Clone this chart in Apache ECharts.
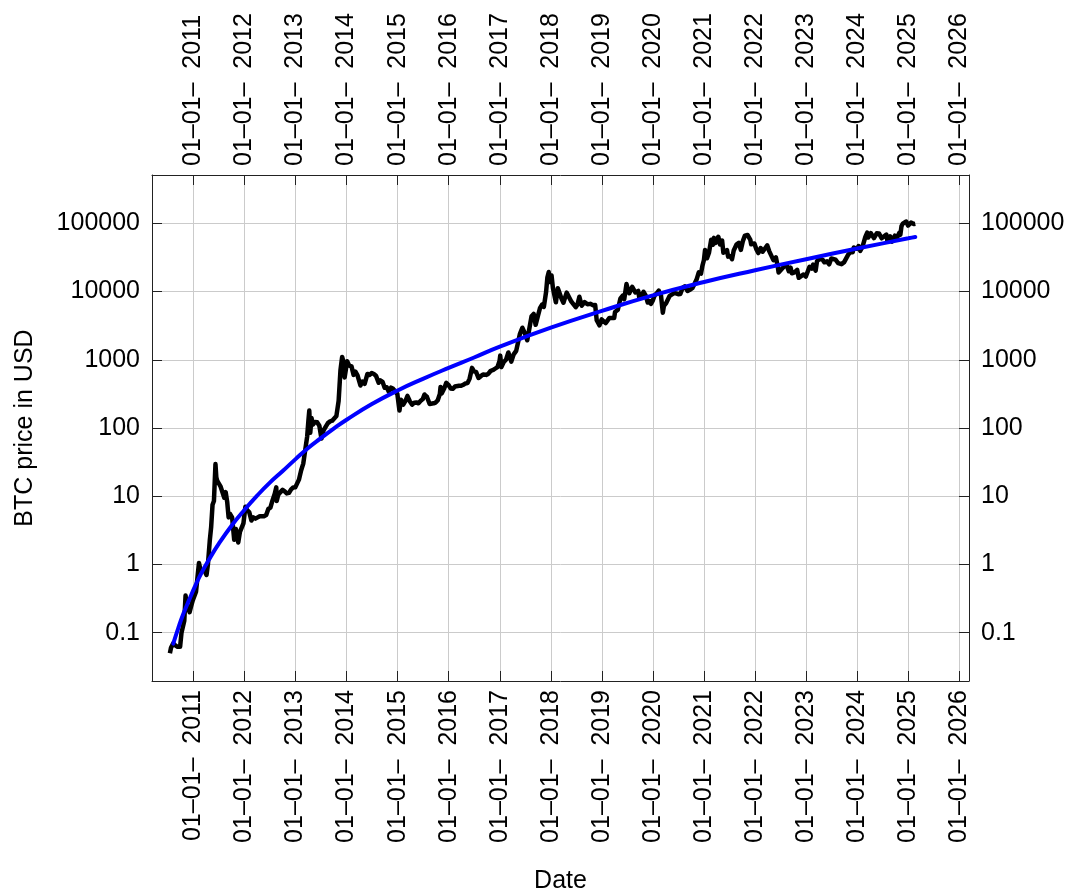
<!DOCTYPE html>
<html>
<head>
<meta charset="utf-8">
<title>BTC price</title>
<script src="https://cdn.jsdelivr.net/npm/echarts@6/dist/echarts.min.js"></script>
<style>
  html, body { margin: 0; padding: 0; background: #fff; }
  #main { width: 1070px; height: 896px; }
</style>
</head>
<body>
<div id="main"></div>
<script>
// BTC daily price, USD
var priceDates = [
  '2010-07-17','2010-07-25','2010-08-10','2010-08-25','2010-09-10','2010-09-28','2010-10-08','2010-10-20','2010-10-28','2010-11-06','2010-11-12','2010-11-25','2010-12-05','2010-12-15','2010-12-28',
  '2011-01-05','2011-01-20','2011-02-01','2011-02-10','2011-02-20','2011-03-05','2011-03-25','2011-04-05','2011-04-15','2011-04-28','2011-05-08','2011-05-18','2011-05-28','2011-06-08','2011-06-14','2011-06-20','2011-07-01','2011-07-15','2011-07-28','2011-08-10','2011-08-20','2011-08-31','2011-09-10','2011-09-20','2011-10-05','2011-10-20','2011-11-01','2011-11-18','2011-11-30','2011-12-10','2011-12-25',
  '2012-01-08','2012-01-20','2012-02-05','2012-02-20','2012-03-05','2012-03-20','2012-04-05','2012-04-20','2012-05-05','2012-05-20','2012-06-05','2012-06-20','2012-07-05','2012-07-20','2012-08-05','2012-08-16','2012-08-19','2012-08-30','2012-09-15','2012-09-30','2012-10-15','2012-10-30','2012-11-15','2012-11-30','2012-12-15','2012-12-30',
  '2013-01-10','2013-01-25','2013-02-10','2013-02-25','2013-03-10','2013-03-25','2013-04-03','2013-04-09','2013-04-16','2013-04-25','2013-05-05','2013-05-20','2013-06-05','2013-06-20','2013-07-05','2013-07-20','2013-08-05','2013-08-20','2013-09-05','2013-09-20','2013-10-03','2013-10-20','2013-11-05','2013-11-18','2013-11-30','2013-12-06','2013-12-18','2013-12-28',
  '2014-01-05','2014-01-20','2014-02-05','2014-02-20','2014-03-05','2014-03-20','2014-04-10','2014-04-25','2014-05-10','2014-05-30','2014-06-15','2014-06-30','2014-07-15','2014-07-30','2014-08-18','2014-08-30','2014-09-15','2014-09-30','2014-10-15','2014-10-30','2014-11-15','2014-11-30','2014-12-15','2014-12-30',
  '2015-01-14','2015-01-25','2015-02-10','2015-02-28','2015-03-12','2015-03-30','2015-04-15','2015-04-30','2015-05-15','2015-05-30','2015-06-15','2015-06-30','2015-07-12','2015-07-30','2015-08-18','2015-08-30','2015-09-15','2015-09-30','2015-10-15','2015-10-30','2015-11-04','2015-11-12','2015-11-30','2015-12-15','2015-12-30',
  '2016-01-15','2016-01-30','2016-02-15','2016-02-28','2016-03-15','2016-03-30','2016-04-15','2016-04-30','2016-05-15','2016-05-30','2016-06-16','2016-06-30','2016-07-15','2016-08-02','2016-08-20','2016-09-05','2016-09-25','2016-10-10','2016-10-28','2016-11-15','2016-11-30','2016-12-15','2016-12-30',
  '2017-01-04','2017-01-12','2017-01-28','2017-02-15','2017-03-03','2017-03-24','2017-04-10','2017-04-28','2017-05-10','2017-05-25','2017-06-11','2017-06-27','2017-07-16','2017-07-31','2017-08-16','2017-08-31','2017-09-14','2017-09-30','2017-10-15','2017-10-31','2017-11-12','2017-11-28','2017-12-07','2017-12-17','2017-12-22','2017-12-31',
  '2018-01-06','2018-01-16','2018-01-28','2018-02-06','2018-02-20','2018-03-05','2018-03-18','2018-04-01','2018-04-24','2018-05-05','2018-05-28','2018-06-10','2018-06-28','2018-07-10','2018-07-24','2018-08-10','2018-08-30','2018-09-05','2018-09-20','2018-10-10','2018-10-30','2018-11-14','2018-11-25','2018-12-15','2018-12-30',
  '2019-01-10','2019-01-28','2019-02-08','2019-02-24','2019-03-10','2019-03-30','2019-04-05','2019-04-25','2019-05-14','2019-05-30','2019-06-10','2019-06-26','2019-07-05','2019-07-16','2019-07-30','2019-08-06','2019-08-28','2019-09-18','2019-09-26','2019-10-10','2019-10-26','2019-11-10','2019-11-25','2019-12-10','2019-12-18','2019-12-30',
  '2020-01-14','2020-01-30','2020-02-12','2020-02-28','2020-03-12','2020-03-20','2020-04-05','2020-04-30','2020-05-10','2020-05-31','2020-06-15','2020-06-30','2020-07-15','2020-07-31','2020-08-16','2020-09-05','2020-09-25','2020-10-10','2020-10-25','2020-11-10','2020-11-24','2020-12-10','2020-12-20','2020-12-31',
  '2021-01-08','2021-01-22','2021-02-05','2021-02-21','2021-03-05','2021-03-13','2021-03-25','2021-04-13','2021-04-25','2021-05-10','2021-05-19','2021-05-30','2021-06-14','2021-06-22','2021-07-08','2021-07-20','2021-08-01','2021-08-22','2021-09-06','2021-09-21','2021-10-06','2021-10-20','2021-11-08','2021-11-28','2021-12-04','2021-12-27',
  '2022-01-10','2022-01-24','2022-02-10','2022-02-24','2022-03-07','2022-03-29','2022-04-11','2022-04-25','2022-05-12','2022-05-30','2022-06-13','2022-06-18','2022-07-01','2022-07-30','2022-08-14','2022-08-30','2022-09-12','2022-09-21','2022-10-10','2022-10-29','2022-11-09','2022-11-21','2022-12-14','2022-12-30',
  '2023-01-10','2023-01-25','2023-02-10','2023-02-20','2023-03-10','2023-03-20','2023-04-12','2023-04-28','2023-05-12','2023-05-30','2023-06-15','2023-06-30','2023-07-14','2023-07-30','2023-08-18','2023-08-30','2023-09-11','2023-09-30','2023-10-12','2023-10-28','2023-11-15','2023-11-30','2023-12-08','2023-12-20','2023-12-31',
  '2024-01-11','2024-01-23','2024-02-08','2024-02-28','2024-03-13','2024-03-20','2024-04-08','2024-04-30','2024-05-20','2024-06-05','2024-06-24','2024-07-05','2024-07-28','2024-08-05','2024-08-25','2024-09-06','2024-09-27','2024-10-10','2024-10-29','2024-11-05','2024-11-13','2024-11-22','2024-12-05','2024-12-17','2024-12-30',
  '2025-01-08','2025-01-20','2025-01-31','2025-02-10','2025-02-20'
];
var priceValues = [
  0.05,0.06,0.07,0.065,0.062,0.062,0.1,0.1,0.15,0.35,0.27,0.28,0.2,0.24,0.3,
  0.3,0.4,0.7,1.05,0.85,0.9,0.78,0.7,1.0,2.2,3.5,7.5,8.5,29.6,19,17,15.5,13.8,13.5,9.5,11.5,8.2,4.9,5.5,4.9,2.3,3.3,2.1,3.0,3.1,4.0,
  7.0,6.3,5.8,4.4,4.9,4.7,4.9,5.1,5.1,5.1,5.3,6.5,6.8,8.7,10.9,13.5,8.5,10.5,11.5,12.4,11.8,11.0,11.2,12.6,13.4,13.5,
  14,17.5,24,30,46,75,130,180,85,140,112,122,121,108,70,92,105,118,125,128,120,150,250,700,1100,1000,550,750,
  950,820,800,600,670,590,420,480,445,620,600,640,620,585,460,500,475,390,395,340,390,375,345,315,
  180,260,220,255,295,245,220,235,237,230,250,265,310,285,225,230,230,236,255,315,400,320,378,460,430,
  380,375,405,430,415,415,430,450,455,530,760,675,665,540,580,610,600,620,690,710,745,780,960,
  1150,780,920,1010,1280,940,1200,1350,1750,2400,2950,2500,1930,2850,4350,4700,3250,4350,5700,6450,5950,9900,16000,19300,13800,13900,
  17200,11200,11500,6950,11200,11500,7900,6850,9650,9800,7100,6750,5900,6400,8400,6200,7000,7400,6500,6600,6300,6350,3800,3200,3900,
  3650,3450,3400,4100,3900,4100,5000,5400,7950,8700,7700,12900,11000,9450,9500,11700,9700,10200,8000,8600,9900,8800,6900,7250,6600,7300,
  8800,9500,10300,8700,4900,6200,6800,8650,8700,9500,9400,9150,9200,11300,11900,10200,10700,11300,13000,15300,19100,18300,23800,29000,
  40700,30800,37000,57500,48400,61200,51700,63500,49000,56000,37000,35600,40500,32500,32900,29800,39900,49300,51700,40700,55300,66000,67500,57200,49300,50700,
  41800,36600,43500,38300,38000,47400,39500,40400,28900,31700,22500,19000,19300,23600,24400,19800,22400,18500,19100,20800,15900,15800,17800,16600,
  17400,23000,21700,24800,20200,28000,30300,29300,26800,27700,25100,30500,30300,29300,26100,27300,25200,27000,26800,34500,37900,37700,44200,43700,42300,
  46400,39500,45300,62500,73100,61900,71600,60600,71400,71100,60300,56700,68200,54000,64200,53900,65800,60300,72700,67800,90400,98900,103000,106100,92700,
  95000,102300,102400,97400,98300
];

// fitted trend (blue curve)
var fitDates = [
  '2010-08-10','2010-09-15','2010-10-20','2010-12-01','2011-01-15','2011-03-01','2011-05-01','2011-07-01','2011-10-01',
  '2012-01-01','2012-04-01','2012-07-01','2012-10-01','2013-01-01','2013-04-01','2013-07-01','2013-10-01',
  '2014-01-01','2014-07-01','2015-01-01','2015-07-01','2016-01-01','2016-07-01','2017-01-01',
  '2018-01-01','2019-01-01','2020-01-01','2021-01-01','2022-01-01','2023-01-01','2024-01-01','2025-01-01','2025-02-20'
];
var fitValues = [
  0.069,0.117,0.186,0.30,0.49,0.76,1.26,2.0,3.7,
  6.3,10.2,15.8,23.4,35,51,71,98,
  132,224,355,525,760,1080,1560,
  2950,5200,8800,13800,20500,29800,42700,60300,63000
];

var yearTicks = [2011,2012,2013,2014,2015,2016,2017,2018,2019,2020,2021,2022,2023,2024,2025,2026];
var yTicks = [0.1,1,10,100,1000,10000,100000];

var xMin = Date.UTC(2010, 2, 11);
var xMax = Date.UTC(2026, 2, 11);
var yMin = -1.708;
var yMax = 5.708;

var FONT = 'Liberation Sans';
var FS = 25;

function toPoints(dates, values) {
  var res = [];
  for (var i = 0; i < dates.length; i++) {
    res.push([Date.parse(dates[i]), Math.log10(values[i])]);
  }
  return res;
}

var xTickValues = yearTicks.map(function (y) { return Date.UTC(y, 0, 1); });
var yTickValues = yTicks.map(function (v) { return Math.log10(v); });

// en dashes and no-break spaces only, so the label never wraps
function dateLabel(v) {
  return '01\u201301\u2013\u00a0\u00a0' + new Date(v).getUTCFullYear();
}
function priceLabel(v) {
  var p = Math.pow(10, v);
  return p < 1 ? String(Math.round(p * 10) / 10) : String(Math.round(p));
}

var dom = document.getElementById('main');
var myChart = echarts.init(dom, null, { renderer: 'canvas' });

var lineStyleAxis = { color: '#222', width: 1 };
var gridLine = { show: true, lineStyle: { color: '#cbcbcb', width: 1 } };

function xAxisOf(pos, withGrid) {
  return {
    type: 'value',
    position: pos,
    min: xMin,
    max: xMax,
    name: pos === 'bottom' ? 'Date' : '',
    nameLocation: 'middle',
    nameGap: 188,
    nameTextStyle: { fontFamily: FONT, fontSize: FS, color: '#000' },
    axisLine: { show: true, onZero: false, lineStyle: lineStyleAxis },
    axisTick: { show: true, inside: true, length: 10, customValues: xTickValues, lineStyle: lineStyleAxis },
    axisLabel: {
      show: true, rotate: pos === 'bottom' ? 90 : -90, margin: 9, customValues: xTickValues,
      formatter: dateLabel, fontFamily: FONT, fontSize: FS, color: '#000',
      width: 300, overflow: 'none'
    },
    splitLine: withGrid ? gridLine : { show: false }
  };
}
function yAxisOf(pos, withGrid) {
  return {
    type: 'value',
    position: pos,
    min: yMin,
    max: yMax,
    name: pos === 'left' ? 'BTC price in USD' : '',
    nameLocation: 'middle',
    nameGap: 114,
    nameTextStyle: { fontFamily: FONT, fontSize: FS, color: '#000' },
    axisLine: { show: true, onZero: false, lineStyle: lineStyleAxis },
    axisTick: { show: true, inside: true, length: 10, customValues: yTickValues, lineStyle: lineStyleAxis },
    axisLabel: {
      show: true, margin: 12, customValues: yTickValues,
      formatter: priceLabel, fontFamily: FONT, fontSize: FS, color: '#000'
    },
    splitLine: withGrid ? gridLine : { show: false }
  };
}

var option = {
  animation: false,
  backgroundColor: '#fff',
  grid: { left: 152, right: 101, top: 175, bottom: 215, containLabel: false, outerBoundsMode: 'none' },
  xAxis: [xAxisOf('bottom', true), xAxisOf('top', false)],
  yAxis: [yAxisOf('left', true), yAxisOf('right', false)],
  series: [
    {
      name: 'BTC',
      type: 'line',
      xAxisIndex: 0,
      yAxisIndex: 0,
      data: toPoints(priceDates, priceValues),
      showSymbol: false,
      lineStyle: { color: '#000', width: 4.5, join: 'round' },
      z: 2
    },
    {
      name: 'fit',
      type: 'line',
      xAxisIndex: 0,
      yAxisIndex: 0,
      data: toPoints(fitDates, fitValues),
      smooth: true,
      showSymbol: false,
      lineStyle: { color: '#0000ff', width: 4, cap: 'round' },
      z: 3
    }
  ]
};
myChart.setOption(option);
</script>
</body>
</html>
